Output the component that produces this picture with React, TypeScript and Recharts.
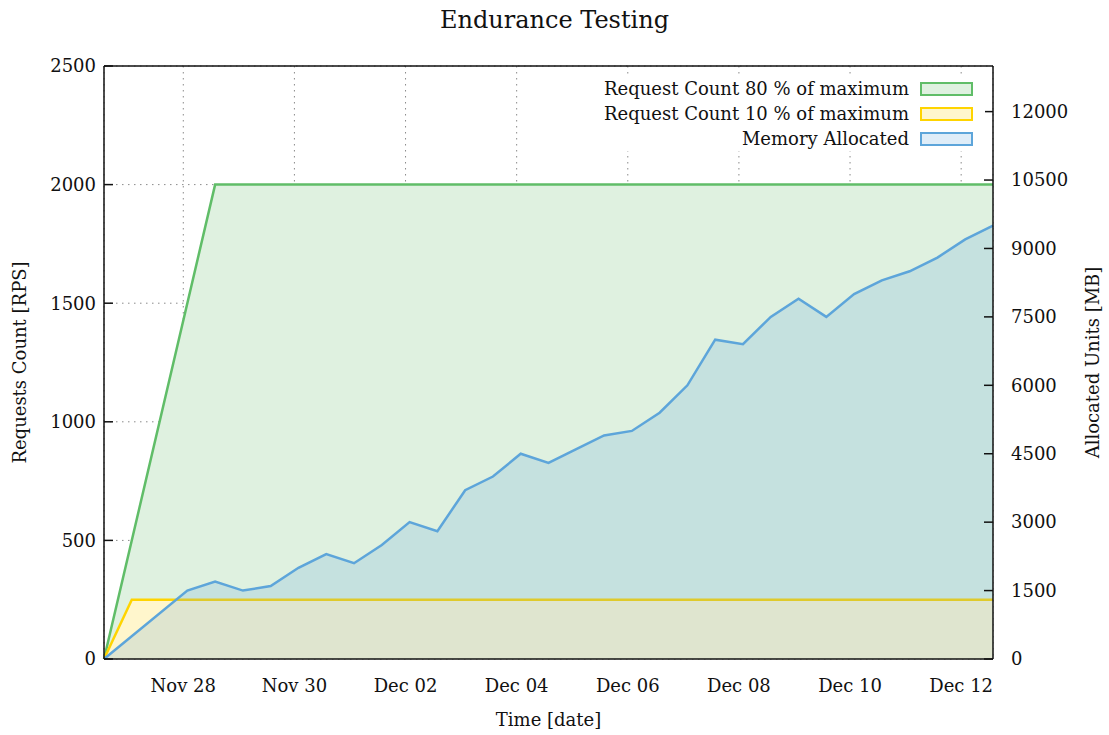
import React from 'react';
import { ComposedChart, Area, XAxis, YAxis, CartesianGrid, ReferenceLine } from 'recharts';

// sample times, every 12 hours
const timestamps = [
  '2024-11-26T13:45:00Z', '2024-11-27T01:45:00Z', '2024-11-27T13:45:00Z', '2024-11-28T01:45:00Z',
  '2024-11-28T13:45:00Z', '2024-11-29T01:45:00Z', '2024-11-29T13:45:00Z', '2024-11-30T01:45:00Z',
  '2024-11-30T13:45:00Z', '2024-12-01T01:45:00Z', '2024-12-01T13:45:00Z', '2024-12-02T01:45:00Z',
  '2024-12-02T13:45:00Z', '2024-12-03T01:45:00Z', '2024-12-03T13:45:00Z', '2024-12-04T01:45:00Z',
  '2024-12-04T13:45:00Z', '2024-12-05T01:45:00Z', '2024-12-05T13:45:00Z', '2024-12-06T01:45:00Z',
  '2024-12-06T13:45:00Z', '2024-12-07T01:45:00Z', '2024-12-07T13:45:00Z', '2024-12-08T01:45:00Z',
  '2024-12-08T13:45:00Z', '2024-12-09T01:45:00Z', '2024-12-09T13:45:00Z', '2024-12-10T01:45:00Z',
  '2024-12-10T13:45:00Z', '2024-12-11T01:45:00Z', '2024-12-11T13:45:00Z', '2024-12-12T01:45:00Z',
  '2024-12-12T13:45:00Z',
];

// Request Count 80 % of maximum [RPS]
const requests80 = [
  0, null, null, null, 2000, 2000, 2000, 2000, 2000, 2000, 2000, 2000, 2000, 2000, 2000, 2000, 2000,
  2000, 2000, 2000, 2000, 2000, 2000, 2000, 2000, 2000, 2000, 2000, 2000, 2000, 2000, 2000, 2000,
];

// Request Count 10 % of maximum [RPS]
const requests10 = [
  0, 250, 250, 250, 250, 250, 250, 250, 250, 250, 250, 250, 250, 250, 250, 250, 250,
  250, 250, 250, 250, 250, 250, 250, 250, 250, 250, 250, 250, 250, 250, 250, 250,
];

// Memory Allocated [MB]
const memoryMB = [
  0, null, null, 1500, 1700, 1500, 1600, 2000, 2300, 2100, 2500, 3000, 2800, 3700, 4000, 4500, 4300,
  4600, 4900, 5000, 5400, 6000, 7000, 6900, 7500, 7900, 7500, 8000, 8300, 8500, 8800, 9200, 9500,
];

const xTicks = [
  '2024-11-28T00:00:00Z', '2024-11-30T00:00:00Z', '2024-12-02T00:00:00Z', '2024-12-04T00:00:00Z',
  '2024-12-06T00:00:00Z', '2024-12-08T00:00:00Z', '2024-12-10T00:00:00Z', '2024-12-12T00:00:00Z',
];
const leftTicks = [0, 500, 1000, 1500, 2000, 2500];
const rightTicks = [0, 1500, 3000, 4500, 6000, 7500, 9000, 10500, 12000];

const legendItems = [
  { name: 'Request Count 80 % of maximum', stroke: '#60bd68', fill: '#dff1e0' },
  { name: 'Request Count 10 % of maximum', stroke: '#ffd400', fill: '#fff6cc' },
  { name: 'Memory Allocated', stroke: '#5da5da', fill: '#dfedf8' },
];

const MONTHS = ['Jan', 'Feb', 'Mar', 'Apr', 'May', 'Jun', 'Jul', 'Aug', 'Sep', 'Oct', 'Nov', 'Dec'];
const FONT = "'DejaVu Serif', serif";

const data = timestamps.map((s, i) => ({
  t: Date.parse(s),
  r80: requests80[i],
  r10: requests10[i],
  mem: memoryMB[i],
}));

const fmtDate = (v: number) => {
  const d = new Date(v);
  return `${MONTHS[d.getUTCMonth()]} ${String(d.getUTCDate()).padStart(2, '0')}`;
};

const LeftTick = ({ x, y, payload }: any) => (
  <g>
    <line x1={x + 8} x2={x + 17} y1={y} y2={y} stroke="#111" strokeWidth={1.5} />
    <text x={x} y={y} dy="0.35em" textAnchor="end" fill="#111" fontSize={18} fontFamily={FONT}>
      {payload.value}
    </text>
  </g>
);

const RightTick = ({ x, y, payload }: any) => (
  <g>
    <line x1={x - 18} x2={x - 27} y1={y} y2={y} stroke="#111" strokeWidth={1.5} />
    <text x={x} y={y} dy="0.35em" textAnchor="start" fill="#111" fontSize={18} fontFamily={FONT}>
      {payload.value}
    </text>
  </g>
);

const DateTick = ({ x, y, payload }: any) => (
  <text x={x} y={y} dy="0.35em" textAnchor="middle" fill="#111" fontSize={18} fontFamily={FONT}>
    {fmtDate(payload.value)}
  </text>
);

const AxisTitle = ({ viewBox, text, dx, dy, rotate }: any) => {
  const cx = viewBox.x + dx;
  const cy = dy === undefined ? viewBox.y + viewBox.height / 2 : viewBox.y + dy;
  return (
    <text
      x={cx}
      y={cy}
      dy="0.35em"
      textAnchor="middle"
      fill="#111"
      fontSize={18}
      fontFamily={FONT}
      transform={rotate ? `rotate(-90 ${cx} ${cy})` : undefined}
    >
      {text}
    </text>
  );
};

const ChartLegend = () => (
  <div
    style={{
      position: 'absolute', left: 597, top: 76, width: 388, background: '#fff',
      fontFamily: FONT, fontSize: 18, color: '#111',
    }}
  >
    {legendItems.map((it) => (
      <div key={it.name} style={{ display: 'flex', alignItems: 'center', justifyContent: 'flex-end', height: 25 }}>
        <span style={{ whiteSpace: 'nowrap' }}>{it.name}</span>
        <span
          style={{
            display: 'inline-block', width: 49, height: 10, marginLeft: 11, marginRight: 12,
            border: `2.5px solid ${it.stroke}`, background: it.fill,
          }}
        />
      </div>
    ))}
  </div>
);

const App = () => {
  const start = Date.parse(timestamps[0]);
  const end = Date.parse(timestamps[timestamps.length - 1]);
  return (
    <div style={{ position: 'absolute', left: 0, top: 0, width: 1109, height: 735, background: '#fff' }}>
      <div
        style={{
          position: 'absolute', left: 0, top: 6, width: 1109, textAlign: 'center',
          fontFamily: FONT, fontSize: 24, lineHeight: '28px', color: '#111',
        }}
      >
        Endurance Testing
      </div>
      <ComposedChart width={1109} height={735} data={data} margin={{ top: 66, right: 0, bottom: 0, left: 0 }}>
        <CartesianGrid yAxisId="left" stroke="#8a8a8a" strokeDasharray="1.5 4.5" strokeWidth={1} />
        <Area
          yAxisId="left" type="linear" dataKey="r80" stroke="#60bd68" strokeWidth={2.5}
          fill="#dff1e0" fillOpacity={1} connectNulls dot={false} activeDot={false} isAnimationActive={false}
        />
        <Area
          yAxisId="left" type="linear" dataKey="r10" stroke="#ffd400" strokeWidth={2.5}
          fill="#fff6cc" fillOpacity={1} connectNulls dot={false} activeDot={false} isAnimationActive={false}
        />
        <Area
          yAxisId="right" type="linear" dataKey="mem" stroke="#5da5da" strokeWidth={2.5}
          fill="#5da5da" fillOpacity={0.2} connectNulls dot={false} activeDot={false} isAnimationActive={false}
        />
        {/* top border of the plot box */}
        <ReferenceLine yAxisId="left" y={2500} stroke="#111" strokeWidth={1.5} />
        <XAxis
          dataKey="t" type="number" domain={[start, end]} ticks={xTicks.map((s) => Date.parse(s))}
          height={76} tickSize={0} tickMargin={27} tick={<DateTick />}
          axisLine={{ stroke: '#111', strokeWidth: 1.5 }}
          label={<AxisTitle text="Time [date]" dx={444.5} dy={61} />}
        />
        <YAxis
          yAxisId="left" orientation="left" width={104} domain={[0, 2500]} ticks={leftTicks}
          tickSize={0} tickMargin={8} tick={<LeftTick />} axisLine={{ stroke: '#111', strokeWidth: 1.5 }}
          label={<AxisTitle text="Requests Count [RPS]" dx={20} rotate />}
        />
        <YAxis
          yAxisId="right" orientation="right" width={116} domain={[0, 13000]} ticks={rightTicks}
          tickSize={0} tickMargin={18} tick={<RightTick />} axisLine={{ stroke: '#111', strokeWidth: 1.5 }}
          label={<AxisTitle text="Allocated Units [MB]" dx={100} rotate />}
        />
      </ComposedChart>
      <ChartLegend />
    </div>
  );
};

export default App;
